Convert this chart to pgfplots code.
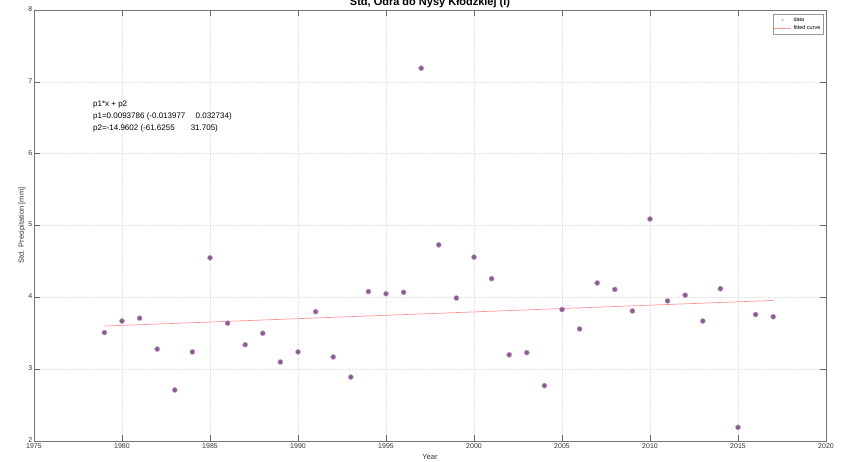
\documentclass[border=0pt]{standalone}
\usepackage{pgfplots}
\pgfplotsset{compat=1.18}
\usepackage{fontspec}
\setmainfont{Liberation Sans}
\definecolor{mfill}{RGB}{126,98,136}
\definecolor{medge}{RGB}{214,140,214}
\definecolor{fitc}{RGB}{255,150,150}
\begin{document}
\begin{tikzpicture}
\begin{axis}[
  scale only axis,
  width=792pt, height=431pt,
  xmin=1975, xmax=2020, ymin=2, ymax=8,
  xtick={1975,1980,...,2020}, ytick={2,3,...,8},
  /pgf/number format/1000 sep={},
  /pgf/number format/assume math mode=true,
  tick label style={font=\fontsize{7}{8}\selectfont, color=black!80},
  yticklabel style={inner sep=1.5pt, yshift=1pt},
  xticklabel style={inner sep=1.5pt, yshift=-0.5pt},
  label style={font=\fontsize{7.5}{9}\selectfont, color=black!80},
  xlabel={Year}, ylabel={Std. Precipitation [mm]},
  xlabel style={at={(axis description cs:0.5,-0.037)}, anchor=center},
  ylabel style={at={(axis description cs:-0.0152,0.5)}, anchor=center},
  title={\textbf{Std, Odra do Nysy Kłodzkiej (l)}},
  title style={font=\fontsize{11}{12}\selectfont, yshift=-7pt},
  grid=major,
  major grid style={black!10, densely dotted, line width=0.6pt},
  tick align=inside, major tick length=6pt,
  tick style={black!60, line width=0.5pt},
  axis line style={black!55, line width=0.6pt},
  legend style={font=\fontsize{5.5}{6}\selectfont, draw=black!40, inner sep=1pt, row sep=-1pt, at={(0.997,0.99)}, anchor=north east},
  legend cell align=left,
]
\coordinate (ll) at (rel axis cs:0,0);
\coordinate (ur) at (rel axis cs:1,1);
\addlegendimage{only marks, mark=*, mark size=0.8pt, color=blue!35}
\addlegendentry{data}
\addplot[only marks, mark=*, mark size=2.5pt, mark options={fill=mfill, draw=medge, line width=0.5pt}, forget plot] coordinates {
(1979,3.51) (1980,3.67) (1981,3.71) (1982,3.28) (1983,2.71) (1984,3.24)
(1985,4.55) (1986,3.64) (1987,3.34) (1988,3.50) (1989,3.10) (1990,3.24)
(1991,3.80) (1992,3.17) (1993,2.89) (1994,4.08) (1995,4.05) (1996,4.07)
(1997,7.19) (1998,4.73) (1999,3.99) (2000,4.56) (2001,4.26) (2002,3.20)
(2003,3.23) (2004,2.77) (2005,3.83) (2006,3.56) (2007,4.20) (2008,4.11)
(2009,3.81) (2010,5.09) (2011,3.95) (2012,4.03) (2013,3.67) (2014,4.12)
(2015,2.19) (2016,3.76) (2017,3.73)
};
\addplot[color=fitc, line width=0.7pt, no marks] coordinates {(1979,3.6001) (2017,3.9565)};
\addlegendentry{fitted curve}
\node[anchor=north west, align=left, font=\fontsize{8}{12}\selectfont, inner sep=0pt] at (axis cs:1978.35,6.74)
{p1*x + p2\\p1=0.0093786 (-0.013977\quad\ 0.032734)\\p2=-14.9602 (-61.6255\quad\quad 31.705)};
\end{axis}
\pgfresetboundingbox
\useasboundingbox ([xshift=-34pt,yshift=-21pt]ll) rectangle ([xshift=20pt,yshift=10pt]ur);
\end{tikzpicture}
\end{document}
